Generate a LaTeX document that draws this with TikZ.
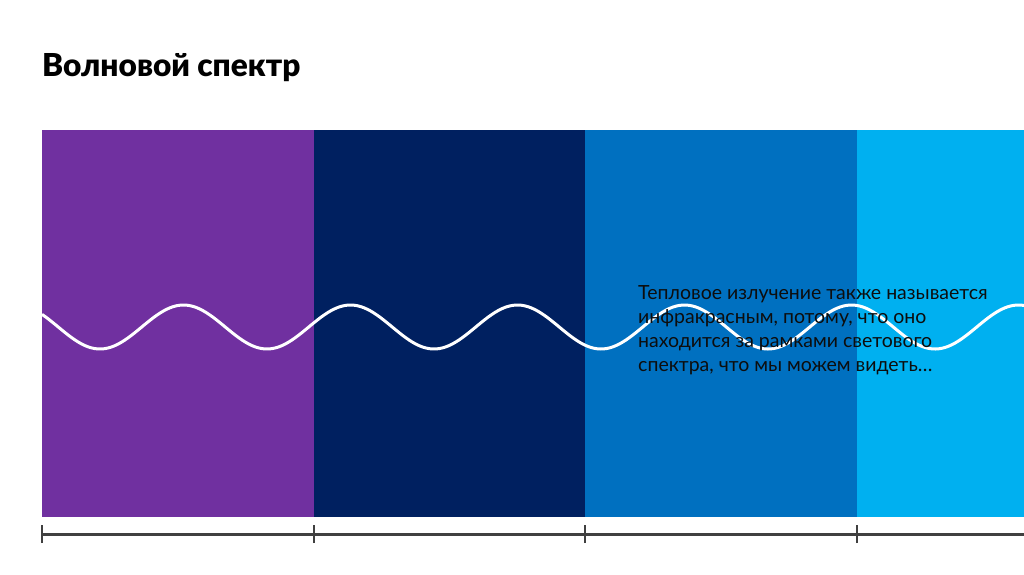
\documentclass[tikz,border=0pt]{standalone}
\usepackage{fontspec}
\setmainfont{Lato}
\newfontfamily\titlefont{Lato}[UprightFont=* Black]
\definecolor{bandA}{HTML}{7030A0}
\definecolor{bandB}{HTML}{002060}
\definecolor{bandC}{HTML}{0070C0}
\definecolor{bandD}{HTML}{00B0F0}
\definecolor{axisgray}{HTML}{404040}
\definecolor{txt}{HTML}{0D0D0D}
\tikzset{
  band/.style={draw=none},
  wave/.style={white, line width=3pt},
  axisline/.style={axisgray, line width=3pt},
  tick/.style={axisgray, line width=2pt},
}
\begin{document}
\begin{tikzpicture}[x=1pt,y=-1pt]
\useasboundingbox (0,0) rectangle (1024,574);
\fill[white] (0,0) rectangle (1024,574);
% bands
\fill[bandA] (42,130) rectangle (314,517);
\fill[bandB] (314,130) rectangle (585,517);
\fill[bandC] (585,130) rectangle (857,517);
\fill[bandD] (857,130) rectangle (1024,517);
% wave
\draw[wave, domain=42:1024, samples=300, smooth] plot (\x, {327+22*cos(2.15569*(\x-100))});
% title
\node[anchor=base west, inner sep=0, text=black, font=\titlefont\fontsize{31.6}{38}\selectfont] (title) at (42,76.5) {Волновой спектр};
% text
\node[anchor=north west, inner sep=0, align=left, text=txt, font=\fontsize{19.5}{24}\selectfont] (desc) at (638,285) {Тепловое излучение также называется\\инфракрасным, потому, что оно\\находится за рамками светового\\спектра, что мы можем видеть…};
% axis
\coordinate (t0) at (42,534);
\coordinate (t1) at (314,534);
\coordinate (t2) at (585,534);
\coordinate (t3) at (857,534);
\coordinate (tend) at (1024,534);
\draw[axisline] (t0) -- (tend);
\foreach \t in {t0,t1,t2,t3} {
  \draw[tick] ([yshift=-9pt]\t) -- ([yshift=9pt]\t);
}
\end{tikzpicture}
\end{document}
